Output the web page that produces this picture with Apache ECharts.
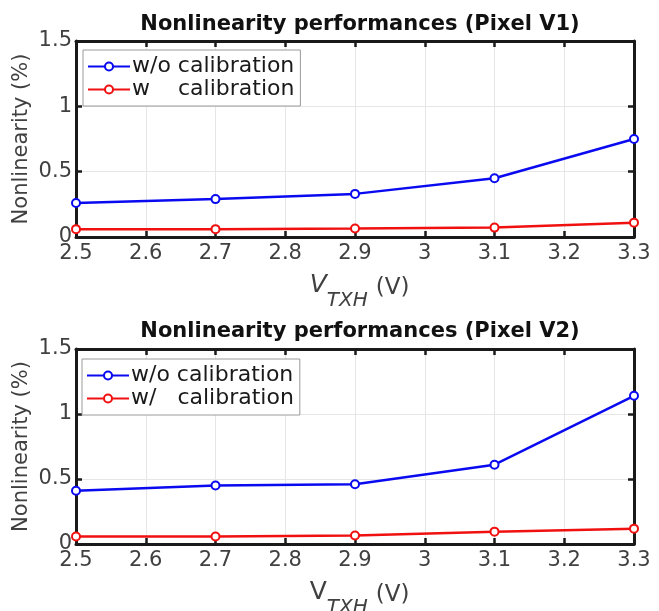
<!DOCTYPE html>
<html>
<head>
<meta charset="utf-8">
<script src="https://cdn.jsdelivr.net/npm/echarts@6/dist/echarts.min.js"></script>
<style>
  html, body { margin: 0; padding: 0; background: #fff; }
  #chart { width: 659px; height: 611px; }
</style>
</head>
<body>
<div id="chart"></div>
<script>
// VTXH (V) on the x axis
const vtxh = [2.5, 2.7, 2.9, 3.1, 3.3]
// Pixel V1
const v1Without = [0.26, 0.29, 0.33, 0.45, 0.75]
const v1With = [0.06, 0.06, 0.065, 0.072, 0.11]
// Pixel V2
const v2Without = [0.41, 0.45, 0.46, 0.61, 1.14]
const v2With = [0.058, 0.058, 0.065, 0.095, 0.118]

const titles = ['Nonlinearity performances (Pixel V1)', 'Nonlinearity performances (Pixel V2)']
const nameWithout = 'w/o calibration'
const nameWithV1 = 'w    calibration'
const nameWithV2 = 'w/   calibration'

const FONT = 'DejaVu Sans, sans-serif'
const BLUE = '#0a0af0'
const RED = '#f01010'

let chart = echarts.init(document.getElementById('chart'))

function pairs(xs, ys) {
  return xs.map((x, i) => [x, ys[i]])
}

function makeSeries(name, ys, color, idx) {
  return {
    name: name,
    type: 'line',
    xAxisIndex: idx * 2,
    yAxisIndex: idx * 2,
    data: pairs(vtxh, ys),
    symbol: 'emptyCircle',
    symbolSize: 8,
    clip: false,
    lineStyle: { color: color, width: 2.5 },
    itemStyle: { color: color, borderWidth: 2 },
    emphasis: { disabled: true },
    animation: false,
  }
}

const grids = [
  { left: 76, top: 41, width: 558, height: 196, outerBoundsMode: 'none' },
  { left: 76, top: 349, width: 558, height: 195, outerBoundsMode: 'none' },
]

let xAxes = []
let yAxes = []
grids.forEach((g, i) => {
  // main x axis (bottom)
  xAxes.push({
    type: 'value',
    gridIndex: i,
    min: 2.5,
    max: 3.3,
    interval: 0.1,
    axisLine: { show: true, onZero: false, lineStyle: { color: '#1a1a1a', width: 3 } },
    axisTick: { show: true, inside: true, length: 6, lineStyle: { color: '#1a1a1a', width: 2.5 } },
    axisLabel: {
      color: '#404040', fontSize: 21, fontFamily: FONT, margin: 6,
      formatter: (v) => String(+v.toFixed(1)),
    },
    splitLine: { show: true, lineStyle: { color: '#e6e6e6', width: 1 } },
    name: '{v|V}{s|TXH}{u|(V)}',
    nameLocation: 'middle',
    nameGap: 36,
    nameMoveOverlap: false,
    nameTextStyle: {
      rich: {
        v: { fontSize: 25, fontFamily: FONT, color: '#404040', fontStyle: i === 0 ? 'italic' : 'normal', lineHeight: 28, verticalAlign: 'top', padding: [0, 0, 0, 9] },
        s: { fontSize: 20, fontFamily: FONT, color: '#404040', fontStyle: 'italic', padding: [18, 3, 0, 0] },
        u: { fontSize: 23, fontFamily: FONT, color: '#404040', padding: [0, 0, 8, 5] },
      },
    },
  })
  // mirrored top axis for the frame
  xAxes.push({
    type: 'value',
    gridIndex: i,
    position: 'top',
    min: 2.5,
    max: 3.3,
    interval: 0.1,
    axisLine: { show: true, onZero: false, lineStyle: { color: '#1a1a1a', width: 3 } },
    axisTick: { show: true, inside: true, length: 6, lineStyle: { color: '#1a1a1a', width: 2.5 } },
    axisLabel: { show: false },
    splitLine: { show: false },
  })
  yAxes.push({
    type: 'value',
    gridIndex: i,
    min: 0,
    max: 1.5,
    interval: 0.5,
    axisLine: { show: true, onZero: false, lineStyle: { color: '#1a1a1a', width: 3 } },
    axisTick: { show: true, inside: true, length: 6, lineStyle: { color: '#1a1a1a', width: 2.5 } },
    axisLabel: { color: '#404040', fontSize: 21, fontFamily: FONT, margin: 4 },
    splitLine: { show: true, lineStyle: { color: '#e6e6e6', width: 1 } },
    name: 'Nonlinearity (%)',
    nameLocation: 'middle',
    nameGap: 44,
    nameMoveOverlap: false,
    nameTextStyle: { color: '#404040', fontSize: 21, fontFamily: FONT },
  })
  yAxes.push({
    type: 'value',
    gridIndex: i,
    position: 'right',
    min: 0,
    max: 1.5,
    interval: 0.5,
    axisLine: { show: true, onZero: false, lineStyle: { color: '#1a1a1a', width: 3 } },
    axisTick: { show: true, inside: true, length: 6, lineStyle: { color: '#1a1a1a', width: 2.5 } },
    axisLabel: { show: false },
    splitLine: { show: false },
  })
})

const legendBase = {
  orient: 'vertical',
  backgroundColor: '#fff',
  borderColor: '#9a9a9a',
  borderWidth: 1,
  borderRadius: 0,
  padding: [5, 6, 5, 4],
  itemGap: 0,
  itemWidth: 42,
  itemHeight: 10,
  selectedMode: false,
  textStyle: { color: '#1a1a1a', fontSize: 22, fontFamily: FONT, padding: [0, 0, 0, -3], lineHeight: 23 },
}

let option = {
  backgroundColor: '#fff',
  animation: false,
  title: [
    {
      text: titles[0], left: 355, top: 9, textAlign: 'center',
      textStyle: { color: '#111', fontSize: 21, fontWeight: 'bold', fontFamily: FONT },
    },
    {
      text: titles[1], left: 355, top: 316, textAlign: 'center',
      textStyle: { color: '#111', fontSize: 21, fontWeight: 'bold', fontFamily: FONT },
    },
  ],
  legend: [
    Object.assign({}, legendBase, { left: 83, top: 50, data: [nameWithout, nameWithV1] }),
    Object.assign({}, legendBase, { left: 82, top: 359, data: [nameWithout, nameWithV2] }),
  ],
  grid: grids,
  xAxis: xAxes,
  yAxis: yAxes,
  series: [
    makeSeries(nameWithout, v1Without, BLUE, 0),
    makeSeries(nameWithV1, v1With, RED, 0),
    makeSeries(nameWithout, v2Without, BLUE, 1),
    makeSeries(nameWithV2, v2With, RED, 1),
  ],
}

chart.setOption(option)
window.addEventListener('resize', () => {
  chart.resize()
})
</script>
</body>
</html>
